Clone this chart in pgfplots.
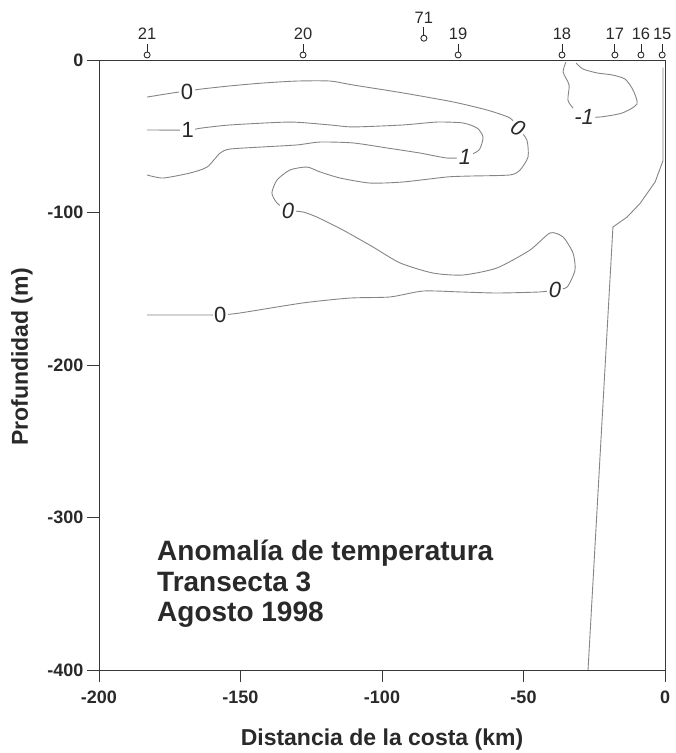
\documentclass[border=0pt]{standalone}
\usepackage{fontspec}
\setmainfont{Liberation Sans}
\usepackage{pgfplots}
\pgfplotsset{compat=1.18}
\definecolor{framec}{gray}{0.22}
\definecolor{contc}{gray}{0.52}
\definecolor{ink}{gray}{0.16}
\pgfdeclareplotmark{station}{%
  \pgfpathcircle{\pgfpoint{0pt}{5pt}}{3pt}\pgfusepathqstroke
  \pgfpathmoveto{\pgfpoint{0pt}{8pt}}\pgfpathlineto{\pgfpoint{0pt}{16pt}}\pgfusepathqstroke}
\pgfplotstableread{
x y lab
-183.0 0 21
-127.9 0 20
-85.2 11 71
-73.1 0 19
-36.4 0 18
-17.7 0 17
-8.5 0 16
-1.0 0 15
}\stations
\begin{document}
\begin{tikzpicture}
\begin{axis}[
  scale only axis, width=566pt, height=610pt,
  xmin=-200, xmax=0, ymin=-400, ymax=0,
  xtick={-200,-150,-100,-50,0}, ytick={-400,-300,-200,-100,0},
  xtick pos=bottom, ytick pos=left, tick align=outside,
  major tick length=12pt,
  axis line style={framec, line width=0.9pt},
  tick style={framec, line width=0.9pt},
  ticklabel style={font=\fontsize{18}{20}\selectfont\bfseries, text=ink},
  xticklabel style={yshift=-5pt},
  /pgf/number format/assume math mode=true,
  xlabel={Distancia de la costa (km)}, ylabel={Profundidad (m)},
  xlabel style={at={(axis description cs:0.5,-0.1148)}, anchor=center, font=\fontsize{23}{26}\selectfont\bfseries, text=ink},
  ylabel style={at={(axis description cs:-0.136,0.513)}, anchor=center, font=\fontsize{23}{26}\selectfont\bfseries, text=ink},
  clip=false,
]
% contour 0 (long snaking)
\addplot[contc, line width=0.9pt, smooth, tension=0.4] coordinates {
(-183.0,-24.3) (-173.9,-21.6) (-163.6,-19.0) (-153.7,-17.0) (-142.0,-15.1) (-130.0,-13.8)
(-118.4,-13.8) (-110.2,-16.4) (-92.6,-21.6) (-74.9,-27.5) (-62.9,-32.8) (-54.8,-38.0)
(-51.9,-44.6) (-48.8,-52.5) (-48.4,-63.6) (-51.2,-72.1) (-54.8,-75.4) (-68.9,-76.1)
(-77.0,-76.7) (-92.6,-80.0) (-104.2,-80.7) (-114.8,-77.4) (-121.9,-73.4) (-126.5,-70.2)
(-132.5,-72.1) (-137.1,-78.7) (-138.9,-87.2) (-137.1,-93.8) (-133.2,-98.4) (-127.9,-99.7)
(-123.0,-103.0) (-113.8,-111.5) (-103.2,-122.6) (-93.6,-133.1) (-82.0,-139.7) (-71.4,-141.0)
(-59.4,-136.4) (-47.7,-124.6) (-40.6,-113.4) (-36.0,-116.1) (-32.5,-126.6) (-31.8,-137.7)
(-34.6,-148.9) (-38.9,-150.8) (-44.2,-152.1) (-59.4,-152.8) (-72.4,-152.1) (-85.5,-151.5)
(-97.2,-155.4) (-111.3,-156.1) (-127.9,-159.3) (-150.2,-165.9) (-157.2,-167.2) (-163.3,-167.2)
(-183.0,-167.2)
};
% contour 1
\addplot[contc, line width=0.9pt, smooth, tension=0.4] coordinates {
(-183.0,-45.9) (-168.6,-45.9) (-163.6,-44.6) (-153.7,-42.6) (-132.5,-40.7) (-118.4,-42.6)
(-110.2,-43.9) (-92.6,-42.6) (-80.6,-40.7) (-71.4,-41.3) (-66.4,-44.6) (-64.3,-50.5)
(-65.7,-59.0) (-70.7,-63.6) (-77.0,-64.3) (-86.6,-61.0) (-98.2,-57.7) (-110.2,-54.4)
(-121.9,-53.8) (-130.0,-55.7) (-142.0,-57.0) (-153.7,-58.4) (-157.2,-61.0) (-161.8,-70.2)
(-167.8,-74.1) (-177.4,-77.4) (-183.0,-75.4)
};
% contour -1 loop
\addplot[contc, line width=0.9pt, smooth, tension=0.4] coordinates {
(-35.0,-1.3) (-36.0,-7.9) (-33.9,-16.4) (-34.3,-26.2) (-32.5,-31.5) (-28.6,-37.0)
(-23.0,-37.4) (-15.2,-34.8) (-9.9,-28.9) (-11.3,-19.7) (-14.1,-12.5) (-18.7,-9.8)
(-24.0,-8.5) (-29.0,-5.9) (-31.4,-2.0)
};
% right contour
\addplot[contc, line width=0.9pt] coordinates {
(-0.7,-5) (-0.7,-66) (-3.5,-80) (-8.8,-94) (-13.4,-103) (-18.4,-109.5) (-27.2,-400)
};
% stations
\addplot[only marks, mark=station, mark options={draw=ink, line width=0.9pt},
  nodes near coords, point meta=explicit symbolic,
  every node near coord/.append style={anchor=base, yshift=20pt, inner sep=0pt,
    font=\fontsize{16.5}{18}\selectfont, text=ink}]
  table[x=x, y=y, meta=lab] {\stations};
% contour labels
\tikzset{clab/.style={fill=white, inner sep=1.5pt, text=ink, font=\fontsize{22}{24}\selectfont}}
\node[clab] at (axis cs:-168.9,-21.0) {0};
\node[clab] at (axis cs:-168.6,-45.9) {1};
\node[clab, font=\fontsize{22}{24}\selectfont\itshape, rotate=-30] at (axis cs:-52.0,-44.6) {0};
\node[clab, font=\fontsize{22}{24}\selectfont\itshape] at (axis cs:-70.7,-63.6) {1};
\node[clab, font=\fontsize{22}{24}\selectfont\itshape] at (axis cs:-133.2,-99.0) {0};
\node[clab, font=\fontsize{22}{24}\selectfont\itshape] at (axis cs:-38.9,-150.8) {0};
\node[clab] at (axis cs:-157.2,-167.2) {0};
\node[clab, font=\fontsize{22}{24}\selectfont\itshape] at (axis cs:-28.6,-37.4) {-1};
% annotation
\node[anchor=base west, inner sep=0pt, text=ink, font=\fontsize{28}{30}\selectfont\bfseries] at (axis cs:-179.5,-328.5) {Anomalía de temperatura};
\node[anchor=base west, inner sep=0pt, text=ink, font=\fontsize{28}{30}\selectfont\bfseries] at (axis cs:-179.5,-348.2) {Transecta 3};
\node[anchor=base west, inner sep=0pt, text=ink, font=\fontsize{28}{30}\selectfont\bfseries] at (axis cs:-179.5,-367.9) {Agosto 1998};
\end{axis}
\pgfresetboundingbox
\path[use as bounding box] ([shift={(-99pt,-83pt)}]current axis.south west) rectangle ([shift={(10pt,60pt)}]current axis.north east);
\end{tikzpicture}
\end{document}
